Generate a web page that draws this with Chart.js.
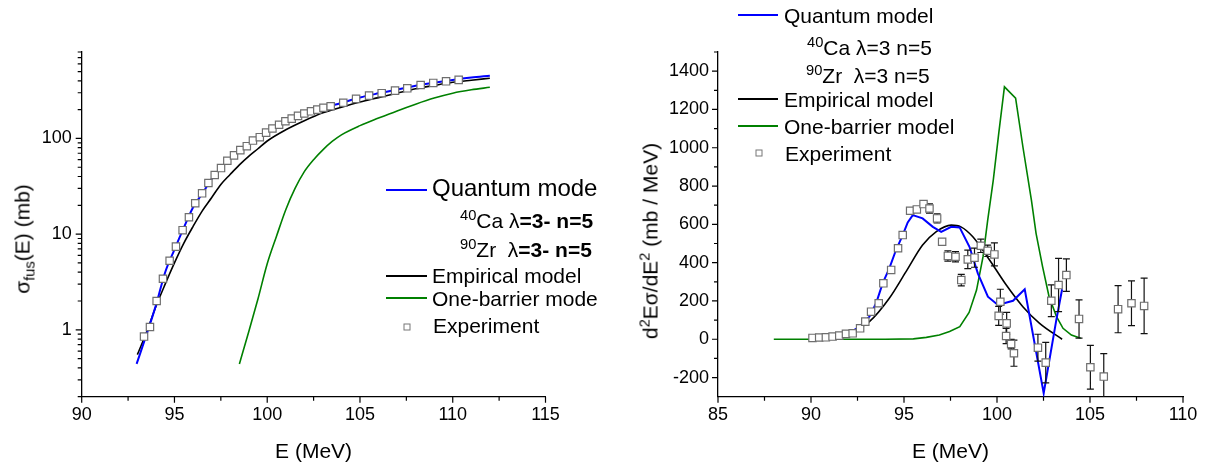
<!DOCTYPE html>
<html>
<head>
<meta charset="utf-8">
<script src="https://cdn.jsdelivr.net/npm/chart.js@4.4.1/dist/chart.umd.min.js"></script>
<style>
  body { margin: 0; background: #fff; font-family: "Liberation Sans", Arial, sans-serif; }
  #wrap { position: relative; width: 1207px; height: 466px; overflow: hidden; }
  canvas { position: absolute; top: 0; }
  .t { position: absolute; white-space: nowrap; font-size: 21px; line-height: 1; transform: translateY(-50%); color: #000; }
  .ln { position: absolute; height: 0; border-top: 2px solid; }
  .sq { position: absolute; width: 5px; height: 5px; border: 1px solid #777; background: #fff; transform: translate(-50%, -50%); }
  .ytitle { position: absolute; white-space: nowrap; font-size: 21px; line-height: 1; transform: translate(-50%, -50%) rotate(-90deg); }
  sup, sub { font-size: 70%; line-height: 0; }
</style>
</head>
<body>
<div id="wrap">
  <canvas id="leftChart" width="600" height="466" style="left:0"></canvas>
  <canvas id="rightChart" width="607" height="466" style="left:600px"></canvas>

  <div class="ytitle" style="left:22px; top:239px">&sigma;<sub>fus</sub>(E) (mb)</div>
  <div class="ytitle" style="left:650px; top:241px">d<sup>2</sup>E&sigma;/dE<sup>2</sup> (mb / MeV)</div>

  <!-- left legend -->
  <div class="ln" style="left:386px; top:189px; width:41px; border-color:#0000ff"></div>
  <div class="t" style="left:432px; top:188px; font-size:24px">Quantum mode</div>
  <div class="t" style="left:460px; top:220px"><sup>40</sup>Ca &lambda;<b>=3- n=5</b></div>
  <div class="t" style="left:460px; top:249px"><sup>90</sup>Zr&nbsp; &lambda;<b>=3- n=5</b></div>
  <div class="ln" style="left:386px; top:275px; width:41px; border-color:#000"></div>
  <div class="t" style="left:432px; top:275px">Empirical model</div>
  <div class="ln" style="left:386px; top:297px; width:41px; border-color:#008000"></div>
  <div class="t" style="left:432px; top:298px">One-barrier mode</div>
  <div class="sq" style="left:407px; top:327px"></div>
  <div class="t" style="left:433px; top:325px">Experiment</div>

  <!-- right legend -->
  <div class="ln" style="left:738px; top:14px; width:40px; border-color:#0000ff"></div>
  <div class="t" style="left:784px; top:15px">Quantum model</div>
  <div class="t" style="left:807px; top:47px"><sup>40</sup>Ca &lambda;=3 n=5</div>
  <div class="t" style="left:806px; top:75px"><sup>90</sup>Zr&nbsp; &lambda;=3 n=5</div>
  <div class="ln" style="left:738px; top:98px; width:40px; border-color:#000"></div>
  <div class="t" style="left:784px; top:99px">Empirical model</div>
  <div class="ln" style="left:738px; top:125px; width:40px; border-color:#008000"></div>
  <div class="t" style="left:784px; top:126px">One-barrier model</div>
  <div class="sq" style="left:759px; top:153px"></div>
  <div class="t" style="left:785px; top:153px">Experiment</div>
</div>

<script>
const FONT = '"Liberation Sans", Arial, sans-serif';

// ---- left panel: fusion cross section (log scale) ----
const leftExpE = [93.36, 93.68, 94.04, 94.38, 94.74, 95.08, 95.44, 95.78, 96.12, 96.49, 96.83, 97.17, 97.51, 97.85,
  98.21, 98.55, 98.9, 99.23, 99.6, 99.94, 100.28, 100.64, 100.98, 101.32, 101.66, 102.0, 102.36, 102.7, 103.03, 103.42,
  104.1, 104.79, 105.49, 106.17, 106.89, 107.55, 108.27, 108.95, 109.64, 110.32];
const leftExpSigma = [0.85, 1.07, 2.0, 3.42, 5.27, 7.4, 11.0, 15.0, 21, 26.7, 34.2, 41.5, 49, 58.5,
  66.5, 75.5, 83, 95, 103, 115, 127, 139, 151, 161, 172, 182, 192, 200, 209, 217,
  236, 259, 280, 297, 316, 334, 362, 380, 395, 409];

const leftQuantumE = [92.96, 93.5, 94, 94.5, 95, 95.5, 96, 96.5, 97, 97.5, 98, 98.5, 99, 99.5, 100, 101, 102, 103, 104,
  105, 106, 107, 108, 109, 110, 111, 112];
const leftQuantumSigma = [0.44, 0.9, 1.8, 4.0, 6.9, 11.6, 19, 26.5, 37.5, 49, 61.5, 74, 86, 101, 117, 151, 182, 209, 235,
  268, 296, 324, 355, 382, 408, 432, 453];

const leftEmpE = [93, 93.5, 94, 94.5, 95, 95.5, 96, 96.5, 97, 97.5, 98, 98.5, 99, 99.5, 100, 101, 102, 103, 104,
  105, 106, 107, 108, 109, 110, 111, 112];
const leftEmpSigma = [0.55, 0.95, 1.75, 3.0, 5.0, 8.0, 12, 17.5, 24, 33, 42, 53, 65, 78, 94, 123, 153, 185, 212,
  240, 267, 297, 330, 358, 386, 406, 425];

const leftBarrierE = [98.5, 99, 99.5, 100, 100.5, 101, 101.5, 102, 102.5, 103, 103.5, 104, 105, 106, 107, 108, 109, 110, 111, 112];
const leftBarrierSigma = [0.44, 0.95, 2.1, 4.9, 9.5, 18, 30, 45, 60, 76, 93, 109, 136, 163, 194, 228, 264, 297, 322, 342];

const leftXTicks = [90, 95, 100, 105, 110, 115];
const leftXMinor = [92.5, 97.5, 102.5, 107.5, 112.5];
const leftYTicks = [1, 10, 100];
const leftYMinor = [0.2, 0.3, 0.4, 0.5, 0.6, 0.7, 0.8, 0.9, 2, 3, 4, 5, 6, 7, 8, 9,
  20, 30, 40, 50, 60, 70, 80, 90, 200, 300, 400, 500, 600, 700, 800];

// ---- right panel: barrier distribution ----
const rightExpE = [90.08, 90.44, 90.8, 91.16, 91.52, 91.88, 92.24, 92.64, 92.92, 93.23, 93.64, 93.89, 94.31, 94.68,
  94.93, 95.33, 95.69, 96.05, 96.37, 96.78, 97.05, 97.36, 97.77, 98.08, 98.43, 98.79, 99.13, 99.5, 99.86,
  100.18, 100.09, 100.52, 100.49, 100.76, 100.91, 102.2, 102.62, 102.92, 103.31, 103.73, 104.41, 105.02, 105.74,
  106.51, 107.23, 107.91];
const rightExpD = [7, 9, 10, 14, 19, 28, 31, 57, 92, 144, 188, 292, 362, 475,
  544, 671, 678, 706, 683, 631, 509, 435, 431, 309, 417, 426, 488, 462, 443,
  196, 122, 83, 17, -25, -73, -44, -122, 201, 283, 335, 106, -146, -195,
  157, 188, 174];
const rightExpErr = [0, 0, 0, 0, 0, 0, 0, 0, 0, 0, 0, 0, 0, 0,
  0, 0, 0, 0, 24, 24, 0, 27, 27, 30, 48, 50, 35, 30, 60,
  65, 50, 57, 40, 25, 68, 70, 106, 83, 139, 85, 100, 114, 120,
  123, 117, 145];

const rightQuantumE = [90, 91, 92, 92.6, 93.14, 93.5, 93.85, 94.21, 94.57, 94.93, 95.2, 95.47, 96.0, 96.55, 97.0,
  97.54, 97.99, 98.52, 98.97, 99.51, 100.05, 100.86, 101.49, 102.51, 103.19, 103.5];
const rightQuantumD = [3, 8, 30, 65, 118, 188, 292, 370, 466, 544, 610, 648, 631, 587, 561,
  587, 584, 483, 344, 222, 179, 201, 261, -282, 101, 261];

const rightEmpE = [90, 91, 91.5, 92.3, 93.14, 94.21, 95.11, 96.0, 96.72, 97.54, 98.06, 98.7, 99.6, 100.5, 101.39, 102.29, 103.5];
const rightEmpD = [3, 8, 14, 45, 92, 214, 353, 492, 561, 596, 587, 535, 414, 283, 170, 83, 0];

const rightBarrierE = [88, 90, 92, 94, 95.5, 96.2, 96.9, 97.45, 98.0, 98.5, 98.9, 99.25, 99.5, 99.8, 100.1, 100.4,
  101.0, 101.4, 101.85, 102.1, 102.45, 102.8, 103.2, 103.55, 104.0, 104.5];
const rightBarrierD = [0, 0, 0, 0, 2, 10, 22, 40, 66, 140, 257, 431, 622, 831, 1080, 1318,
  1259, 1000, 727, 553, 379, 222, 118, 57, 22, 5];

const rightXTicks = [85, 90, 95, 100, 105, 110];
const rightXMinor = [87.5, 92.5, 97.5, 102.5, 107.5];
const rightYTicks = [-200, 0, 200, 400, 600, 800, 1000, 1200, 1400];
const rightYMinor = [-100, 100, 300, 500, 700, 900, 1100, 1300, 1500];

const pts = (xs, ys) => xs.map((x, i) => ({ x: x, y: ys[i] }));

// outward tick marks, major and minor
const tickMarks = {
  id: 'tickMarks',
  afterDraw(chart, args, opts) {
    const ctx = chart.ctx;
    const xs = chart.scales.x, ys = chart.scales.y;
    const ca = chart.chartArea;
    ctx.save();
    ctx.strokeStyle = '#000';
    ctx.lineWidth = 1.2;
    ctx.beginPath();
    opts.xMajor.forEach(v => { const p = xs.getPixelForValue(v); ctx.moveTo(p, ca.bottom); ctx.lineTo(p, ca.bottom + 6); });
    opts.xMinor.forEach(v => { const p = xs.getPixelForValue(v); ctx.moveTo(p, ca.bottom); ctx.lineTo(p, ca.bottom + 4); });
    opts.yMajor.forEach(v => { const p = ys.getPixelForValue(v); ctx.moveTo(ca.left, p); ctx.lineTo(ca.left - 6, p); });
    opts.yMinor.forEach(v => { const p = ys.getPixelForValue(v); ctx.moveTo(ca.left, p); ctx.lineTo(ca.left - 4, p); });
    ctx.stroke();
    ctx.restore();
  }
};

// error bars under the experiment squares
const errorBars = {
  id: 'errorBars',
  beforeDatasetDraw(chart, args, opts) {
    if (!opts.errors || args.index !== opts.index) return;
    const ctx = chart.ctx;
    const ys = chart.scales.y;
    const ca = chart.chartArea;
    const data = chart.data.datasets[args.index].data;
    ctx.save();
    ctx.beginPath();
    ctx.rect(ca.left, ca.top, ca.right - ca.left, ca.bottom - ca.top);
    ctx.clip();
    ctx.strokeStyle = '#111';
    ctx.lineWidth = 1.2;
    ctx.beginPath();
    args.meta.data.forEach((pt, i) => {
      const e = opts.errors[i];
      if (!e) return;
      const y1 = ys.getPixelForValue(data[i].y + e);
      const y2 = ys.getPixelForValue(data[i].y - e);
      ctx.moveTo(pt.x, y1); ctx.lineTo(pt.x, y2);
      ctx.moveTo(pt.x - 3.5, y1); ctx.lineTo(pt.x + 3.5, y1);
      ctx.moveTo(pt.x - 3.5, y2); ctx.lineTo(pt.x + 3.5, y2);
    });
    ctx.stroke();
    ctx.restore();
  }
};

function lineSet(data, color, width, smooth, order) {
  return {
    data: data, borderColor: color, borderWidth: width, pointRadius: 0, fill: false,
    cubicInterpolationMode: smooth ? 'monotone' : 'default', order: order
  };
}

function expSet(data) {
  return {
    data: data, showLine: false, pointStyle: 'rect', pointRadius: 5.2,
    pointBackgroundColor: '#fff', pointBorderColor: '#6e6e6e', pointBorderWidth: 1.2, order: 0
  };
}

const tickFont = { size: 18, family: FONT };
const titleFont = { size: 21, family: FONT };

new Chart(document.getElementById('leftChart'), {
  type: 'line',
  data: {
    datasets: [
      expSet(pts(leftExpE, leftExpSigma)),
      lineSet(pts(leftQuantumE, leftQuantumSigma), '#0000ff', 2, true, 1),
      lineSet(pts(leftEmpE, leftEmpSigma), '#000', 1.6, true, 2),
      lineSet(pts(leftBarrierE, leftBarrierSigma), '#008000', 1.6, true, 3)
    ]
  },
  options: {
    responsive: false, animation: false, devicePixelRatio: 1,
    layout: { padding: { top: 52, right: 54.5, left: 0, bottom: 0 } },
    plugins: {
      legend: { display: false }, tooltip: { enabled: false },
      tickMarks: { xMajor: leftXTicks, xMinor: leftXMinor, yMajor: leftYTicks, yMinor: leftYMinor }
    },
    scales: {
      x: {
        type: 'linear', min: 90, max: 115,
        afterBuildTicks: s => { s.ticks = leftXTicks.map(v => ({ value: v })); },
        afterFit: s => { s.height = 69.3; },
        grid: { display: false, drawTicks: false },
        border: { display: true, color: '#000', width: 1.3 },
        ticks: { color: '#000', font: tickFont, padding: 8, maxRotation: 0, autoSkip: false, callback: v => String(v) },
        title: { display: true, text: 'E (MeV)', color: '#000', font: titleFont, padding: { top: 0, bottom: 1 } }
      },
      y: {
        type: 'logarithmic', min: 0.2, max: 800,
        afterBuildTicks: s => { s.ticks = leftYTicks.map(v => ({ value: v })); },
        afterFit: s => { s.width = 81.7; },
        grid: { display: false, drawTicks: false },
        border: { display: true, color: '#000', width: 1.3 },
        ticks: { color: '#000', font: tickFont, padding: 10, autoSkip: false, callback: v => String(v) }
      }
    }
  },
  plugins: [tickMarks]
});

new Chart(document.getElementById('rightChart'), {
  type: 'line',
  data: {
    datasets: [
      expSet(pts(rightExpE, rightExpD)),
      lineSet(pts(rightQuantumE, rightQuantumD), '#0000ff', 2, false, 1),
      lineSet(pts(rightEmpE, rightEmpD), '#000', 1.6, true, 2),
      lineSet(pts(rightBarrierE, rightBarrierD), '#008000', 1.6, false, 3)
    ]
  },
  options: {
    responsive: false, animation: false, devicePixelRatio: 1,
    layout: { padding: { top: 52, right: 24, left: 0, bottom: 0 } },
    plugins: {
      legend: { display: false }, tooltip: { enabled: false },
      tickMarks: { xMajor: rightXTicks, xMinor: rightXMinor, yMajor: rightYTicks, yMinor: rightYMinor },
      errorBars: { index: 0, errors: rightExpErr }
    },
    scales: {
      x: {
        type: 'linear', min: 85, max: 110,
        afterBuildTicks: s => { s.ticks = rightXTicks.map(v => ({ value: v })); },
        afterFit: s => { s.height = 69.3; },
        grid: { display: false, drawTicks: false },
        border: { display: true, color: '#000', width: 1.3 },
        ticks: { color: '#000', font: tickFont, padding: 8, maxRotation: 0, autoSkip: false, callback: v => String(v) },
        title: { display: true, text: 'E (MeV)', color: '#000', font: titleFont, padding: { top: 0, bottom: 1 } }
      },
      y: {
        type: 'linear', min: -300, max: 1500,
        afterBuildTicks: s => { s.ticks = rightYTicks.map(v => ({ value: v })); },
        afterFit: s => { s.width = 118; },
        grid: { display: false, drawTicks: false },
        border: { display: true, color: '#000', width: 1.3 },
        ticks: { color: '#000', font: tickFont, padding: 9, autoSkip: false, callback: v => String(v) }
      }
    }
  },
  plugins: [tickMarks, errorBars]
});
</script>
</body>
</html>
